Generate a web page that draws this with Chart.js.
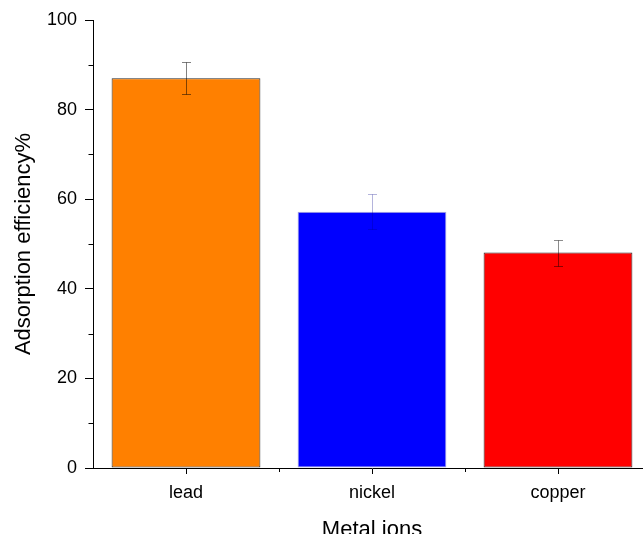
<!DOCTYPE html>
<html>
<head>
<meta charset="utf-8">
<script src="https://cdn.jsdelivr.net/npm/chart.js@4"></script>
<style>
  html, body { margin: 0; padding: 0; background: #fff; overflow: hidden; }
  #wrap { width: 643px; height: 534px; overflow: hidden; position: relative; }
  canvas { display: block; }
</style>
</head>
<body>
<div id="wrap"><canvas id="c" width="660" height="550"></canvas></div>
<script>
// Adsorption efficiency per metal ion, with symmetric error bars
const metals = ['lead', 'nickel', 'copper'];
const efficiency = [87.0, 57.2, 48.1];
const errorSize = [3.6, 3.9, 2.9];
const yTicks = [0, 20, 40, 60, 80, 100];
const yMinorTicks = [10, 30, 50, 70, 90];
const yTitle = 'Adsorption efficiency%';
const xTitle = 'Metal ions';

const fills = ['#FF8000', '#0000FF', '#FF0000'];
const edges = ['#2a2a2a', '#a8a8d8', '#2a2a2a'];
const whiskers = ['#808080', '#b4b4dc', '#8c8c8c'];

Chart.defaults.font.family = "'Liberation Sans', Arial, sans-serif";
Chart.defaults.color = '#000';

// Error bars drawn on top of the bars (multiply so they tint the fill)
const errorBars = {
  id: 'errorBars',
  afterDatasetsDraw(chart) {
    const ctx = chart.ctx;
    const y = chart.scales.y;
    const meta = chart.getDatasetMeta(0);
    ctx.save();
    ctx.globalCompositeOperation = 'multiply';
    ctx.lineWidth = 1;
    meta.data.forEach((bar, i) => {
      const x = Math.round(bar.x) + 0.5;
      const top = Math.round(y.getPixelForValue(efficiency[i] + errorSize[i])) + 0.5;
      const bot = Math.round(y.getPixelForValue(efficiency[i] - errorSize[i])) + 0.5;
      ctx.strokeStyle = whiskers[i];
      ctx.beginPath();
      ctx.moveTo(x, top); ctx.lineTo(x, bot);
      ctx.moveTo(x - 4.5, top); ctx.lineTo(x + 4.5, top);
      ctx.moveTo(x - 4.5, bot); ctx.lineTo(x + 4.5, bot);
      ctx.stroke();
    });
    ctx.restore();
  }
};

// Short minor ticks: y at odd tens, x at category boundaries
const minorTicks = {
  id: 'minorTicks',
  afterDraw(chart) {
    const ctx = chart.ctx;
    const { x, y } = chart.scales;
    const area = chart.chartArea;
    ctx.save();
    ctx.strokeStyle = '#000';
    ctx.lineWidth = 1;
    ctx.beginPath();
    const ax = Math.round(area.left) + 0.5;
    yMinorTicks.forEach(v => {
      const py = Math.round(y.getPixelForValue(v)) + 0.5;
      ctx.moveTo(ax - 5, py); ctx.lineTo(ax, py);
    });
    const ay = Math.round(area.bottom);
    for (let i = 0; i < metals.length - 1; i++) {
      const px = Math.round((x.getPixelForValue(i) + x.getPixelForValue(i + 1)) / 2) + 0.5;
      ctx.moveTo(px, ay); ctx.lineTo(px, ay + 4);
    }
    ctx.stroke();
    ctx.restore();
  }
};

new Chart(document.getElementById('c'), {
  type: 'bar',
  data: {
    labels: metals,
    datasets: [{
      data: efficiency,
      backgroundColor: fills,
      borderColor: edges,
      borderWidth: 1,
      borderSkipped: false,
      categoryPercentage: 1.0,
      barPercentage: 0.8
    }]
  },
  options: {
    responsive: false,
    animation: false,
    devicePixelRatio: 1,
    layout: { padding: { left: 0, top: 20, right: 9, bottom: 0 } },
    plugins: { legend: { display: false }, tooltip: { enabled: false } },
    scales: {
      x: {
        offset: true,
        grid: { display: true, drawOnChartArea: false, drawTicks: true, tickLength: 6, offset: false, color: '#000' },
        border: { display: true, color: '#000', width: 1 },
        ticks: { color: '#000', font: { size: 18 }, padding: 8, maxRotation: 0 },
        title: { display: true, text: xTitle, color: '#000', font: { size: 22 }, padding: { top: 0, bottom: 7 } },
        afterFit(s) { s.height = 82; }
      },
      y: {
        min: 0,
        max: 100,
        afterBuildTicks(s) { s.ticks = yTicks.map(v => ({ value: v })); },
        grid: { display: true, drawOnChartArea: false, drawTicks: true, tickLength: 8, color: '#000' },
        border: { display: true, color: '#000', width: 1 },
        ticks: { color: '#000', font: { size: 18 }, padding: 8 },
        title: { display: true, text: yTitle, color: '#000', font: { size: 22 }, padding: { top: 11, bottom: 0 } },
        afterFit(s) { s.width = 93; }
      }
    }
  },
  plugins: [errorBars, minorTicks]
});
</script>
</body>
</html>
